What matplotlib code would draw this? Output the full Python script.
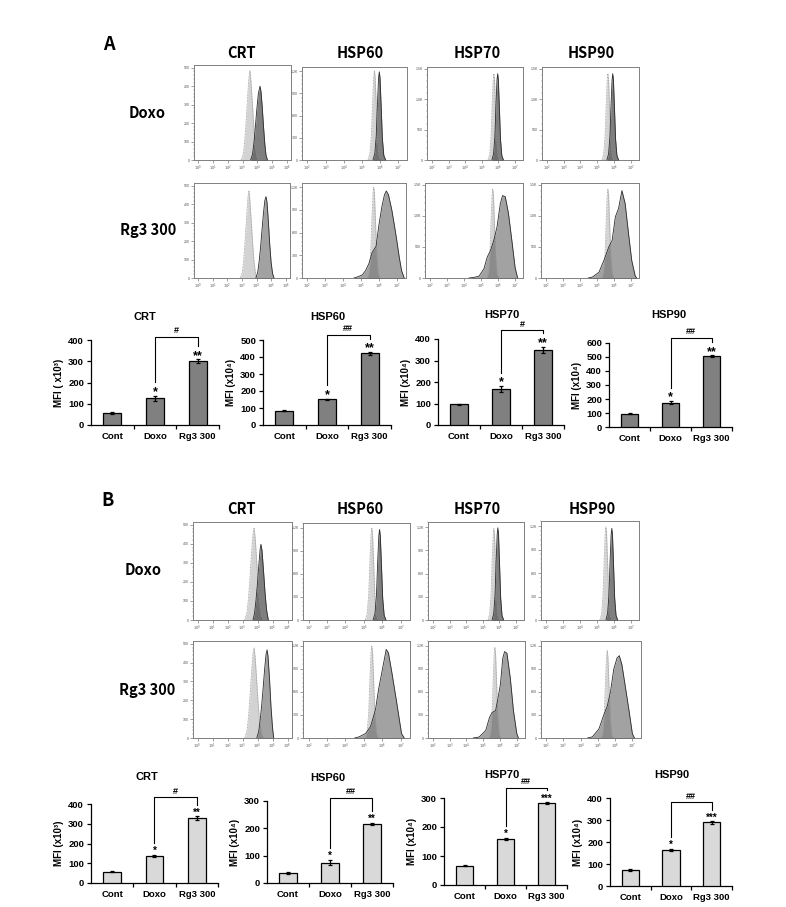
import matplotlib
matplotlib.use('Agg')
import matplotlib.pyplot as plt
import numpy as np

plt.rcParams['font.family'] = ['Liberation Sans', 'DejaVu Sans']

W, H = 786, 907
fig = plt.figure(figsize=(W / 100, H / 100), dpi=100)

# ---------------- bar-chart data ----------------
groups = ['Cont', 'Doxo', 'Rg3 300']
a_crt = [57, 125, 301];   a_crt_err = [4, 13, 8]
a_hsp60 = [84, 151, 421]; a_hsp60_err = [4, 4, 8]
a_hsp70 = [97, 167, 350]; a_hsp70_err = [3, 15, 15]
a_hsp90 = [95, 174, 505]; a_hsp90_err = [2, 12, 6]
b_crt = [58, 138, 328];   b_crt_err = [2, 5, 10]
b_hsp60 = [36, 75, 216];  b_hsp60_err = [4, 10, 5]
b_hsp70 = [67, 159, 283]; b_hsp70_err = [3, 4, 3]
b_hsp90 = [72, 165, 289]; b_hsp90_err = [4, 5, 5]
a_brackets = [415, 530, 440, 638]
b_brackets = [435, 312, 335, 380]
a_stars = [['', '*', '**'], ['', '*', '**'], ['', '*', '**'], ['', '*', '**']]
b_stars = [['', '*', '**'], ['', '*', '**'], ['', '*', '***'], ['', '*', '***']]
a_hash = ['#', '##', '#', '##']
b_hash = ['#', '##', '##', '##']
a_ymax = [400, 500, 400, 600]
b_ymax = [400, 300, 300, 400]
a_ylabels = ['MFI ( x10³)', 'MFI (x10⁴)', 'MFI (x10⁴)', 'MFI (x10⁴)']
b_ylabels = ['MFI (x10³)', 'MFI (x10⁴)', 'MFI (x10⁴)', 'MFI (x10⁴)']
markers = ['CRT', 'HSP60', 'HSP70', 'HSP90']
rows = ['Doxo', 'Rg3 300']

# ---------------- histogram data (log10 fluorescence, count) ----------------
# Panel A, Doxo row
a1_crt_c = ([2.9, 3.05, 3.15, 3.25, 3.35, 3.44, 3.51, 3.57, 3.66, 3.76, 3.86, 3.96, 4.05],
            [0, 30, 100, 215, 345, 450, 484, 430, 320, 190, 85, 25, 0])
a1_crt_t = ([3.55, 3.68, 3.78, 3.88, 3.98, 4.08, 4.19, 4.26, 4.34, 4.43, 4.52, 4.6, 4.7],
            [0, 30, 95, 185, 280, 360, 400, 370, 290, 180, 85, 25, 0])
a1_h60_c = ([5.35, 5.45, 5.53, 5.60, 5.66, 5.70, 5.74, 5.80, 5.87, 5.95, 6.05],
            [0, 84, 324, 780, 1116, 1200, 1116, 744, 288, 60, 0])
a1_h60_t = ([5.62, 5.72, 5.80, 5.87, 5.93, 5.97, 6.01, 6.07, 6.14, 6.22, 6.32],
            [0, 83, 321, 774, 1107, 1190, 1107, 738, 286, 60, 0])
a1_h70_c = ([5.39, 5.49, 5.57, 5.64, 5.70, 5.74, 5.78, 5.84, 5.91, 5.99, 6.09],
            [0, 99, 383, 923, 1321, 1420, 1321, 880, 341, 71, 0])
a1_h70_t = ([5.62, 5.72, 5.80, 5.87, 5.93, 5.97, 6.01, 6.07, 6.14, 6.22, 6.32],
            [0, 99, 383, 923, 1321, 1420, 1321, 880, 341, 71, 0])
a1_h90_c = ([5.29, 5.39, 5.47, 5.54, 5.60, 5.64, 5.68, 5.74, 5.81, 5.89, 5.99],
            [0, 99, 383, 923, 1321, 1420, 1321, 880, 341, 71, 0])
a1_h90_t = ([5.58, 5.68, 5.76, 5.83, 5.89, 5.93, 5.97, 6.03, 6.10, 6.18, 6.28],
            [0, 99, 383, 923, 1321, 1420, 1321, 880, 341, 71, 0])
# Panel A, Rg3 300 row
a2_crt_c = ([2.87, 3.02, 3.12, 3.22, 3.32, 3.41, 3.48, 3.54, 3.63, 3.73, 3.83, 3.93, 4.02],
            [0, 29, 98, 210, 337, 440, 473, 420, 313, 186, 83, 24, 0])
a2_crt_t = ([3.95, 4.08, 4.18, 4.28, 4.38, 4.48, 4.57, 4.65, 4.72, 4.81, 4.9, 5.0, 5.1, 5.2],
            [0, 30, 90, 170, 265, 355, 420, 441, 410, 310, 190, 85, 25, 0])
a2_h60_c = ([5.35, 5.45, 5.53, 5.60, 5.66, 5.70, 5.74, 5.80, 5.87, 5.95, 6.05],
            [0, 84, 324, 780, 1116, 1200, 1116, 744, 288, 60, 0])
a2_h60_t = ([4.6, 4.8, 5.06, 5.25, 5.43, 5.6, 5.7, 5.83, 5.98, 6.16, 6.3, 6.4, 6.52, 6.7, 6.85, 6.98, 7.12, 7.25, 7.4],
            [0, 15, 40, 100, 190, 330, 370, 420, 685, 950, 1100, 1150, 1100, 910, 700, 505, 280, 100, 0])
a2_h70_c = ([5.36, 5.46, 5.54, 5.61, 5.67, 5.71, 5.75, 5.81, 5.88, 5.96, 6.06],
            [0, 100, 387, 933, 1335, 1435, 1335, 890, 344, 72, 0])
a2_h70_t = ([4.3, 4.6, 4.9, 5.19, 5.38, 5.58, 5.77, 5.96, 6.16, 6.29, 6.45, 6.64, 6.84, 7.03, 7.18],
            [0, 10, 30, 150, 335, 445, 605, 820, 1200, 1327, 1310, 1040, 605, 173, 0])
a2_h90_c = ([5.31, 5.41, 5.49, 5.56, 5.62, 5.66, 5.70, 5.76, 5.83, 5.91, 6.01],
            [0, 100, 387, 933, 1335, 1435, 1335, 890, 344, 72, 0])
a2_h90_t = ([4.5, 4.74, 5.13, 5.42, 5.71, 5.91, 6.1, 6.29, 6.49, 6.68, 6.88, 7.07, 7.27, 7.36],
            [0, 15, 92, 282, 498, 606, 985, 1120, 1408, 1200, 715, 282, 38, 0])
# Panel B, Doxo row
b1_crt_c = ([3.15, 3.3, 3.4, 3.5, 3.6, 3.7, 3.77, 3.84, 3.93, 4.03, 4.13, 4.26, 4.4],
            [0, 40, 115, 225, 350, 455, 484, 435, 330, 200, 95, 25, 0])
b1_crt_t = ([3.7, 3.8, 3.9, 4.0, 4.1, 4.18, 4.23, 4.3, 4.4, 4.5, 4.6, 4.72],
            [0, 35, 105, 195, 300, 375, 398, 365, 260, 145, 55, 0])
b1_h60_c = ([5.08, 5.18, 5.26, 5.33, 5.39, 5.43, 5.47, 5.53, 5.60, 5.68, 5.78],
            [0, 84, 324, 780, 1116, 1200, 1116, 744, 288, 60, 0])
b1_h60_t = ([5.50, 5.60, 5.68, 5.75, 5.81, 5.85, 5.89, 5.95, 6.02, 6.10, 6.20],
            [0, 83, 319, 767, 1097, 1180, 1097, 732, 283, 59, 0])
b1_h70_c = ([5.33, 5.43, 5.51, 5.58, 5.64, 5.68, 5.72, 5.78, 5.85, 5.93, 6.03],
            [0, 83, 319, 767, 1097, 1180, 1097, 732, 283, 59, 0])
b1_h70_t = ([5.57, 5.67, 5.75, 5.82, 5.88, 5.92, 5.96, 6.02, 6.09, 6.17, 6.27],
            [0, 83, 321, 774, 1107, 1190, 1107, 738, 286, 60, 0])
b1_h90_c = ([5.19, 5.29, 5.37, 5.44, 5.50, 5.54, 5.58, 5.64, 5.71, 5.79, 5.89],
            [0, 83, 321, 774, 1107, 1190, 1107, 738, 286, 60, 0])
b1_h90_t = ([5.54, 5.64, 5.72, 5.79, 5.85, 5.89, 5.93, 5.99, 6.06, 6.14, 6.24],
            [0, 82, 316, 761, 1088, 1170, 1088, 725, 281, 59, 0])
# Panel B, Rg3 300 row
b2_crt_c = ([3.15, 3.3, 3.4, 3.5, 3.6, 3.7, 3.77, 3.84, 3.93, 4.03, 4.13, 4.26, 4.4],
            [0, 40, 112, 222, 346, 450, 478, 430, 326, 198, 94, 25, 0])
b2_crt_t = ([3.95, 4.08, 4.18, 4.28, 4.38, 4.48, 4.57, 4.64, 4.7, 4.8, 4.9, 5.0, 5.08],
            [0, 35, 95, 175, 270, 370, 445, 468, 435, 315, 165, 55, 0])
b2_h60_c = ([5.08, 5.18, 5.26, 5.33, 5.39, 5.43, 5.47, 5.53, 5.60, 5.68, 5.78],
            [0, 84, 324, 780, 1116, 1200, 1116, 744, 288, 60, 0])
b2_h60_t = ([4.5, 4.74, 5.09, 5.36, 5.63, 5.8, 5.98, 6.21, 6.33, 6.51, 6.78, 7.04, 7.19],
            [0, 15, 58, 148, 372, 640, 864, 1155, 1110, 864, 461, 58, 0])
b2_h70_c = ([5.35, 5.45, 5.53, 5.60, 5.66, 5.70, 5.74, 5.80, 5.87, 5.95, 6.05],
            [0, 83, 319, 767, 1097, 1180, 1097, 732, 283, 59, 0])
b2_h70_t = ([4.4, 4.76, 5.15, 5.38, 5.54, 5.74, 5.89, 6.03, 6.17, 6.28, 6.42, 6.62, 6.81, 7.01, 7.11],
            [0, 13, 98, 270, 334, 356, 527, 699, 1040, 1127, 1105, 784, 356, 56, 0])
b2_h90_c = ([5.19, 5.29, 5.37, 5.44, 5.50, 5.54, 5.58, 5.64, 5.71, 5.79, 5.89],
            [0, 80, 308, 741, 1060, 1140, 1060, 707, 274, 57, 0])
b2_h90_t = ([4.4, 4.68, 5.06, 5.35, 5.54, 5.73, 5.92, 6.11, 6.24, 6.39, 6.58, 6.81, 7.0, 7.12],
            [0, 15, 118, 307, 413, 602, 897, 1044, 1074, 960, 686, 350, 55, 0])

crt_yt = ([0, 100, 200, 300, 400, 500], ['0', '100', '200', '300', '400', '500'])
k12_yt = ([0, 300, 600, 900, 1200], ['0', '300', '600', '900', '1.2K'])
k15_yt = ([0, 500, 1000, 1500], ['0', '500', '1.0K', '1.5K'])

HEAD_FAMILY = ['Noto Sans CJK KR', 'DejaVu Sans']


def ax_px(x0, y0, x1, y1):
    return fig.add_axes([x0 / W, 1 - y1 / H, (x1 - x0) / W, (y1 - y0) / H])


def txt(x, y, s, **kw):
    fig.text(x / W, 1 - y / H, s, ha='center', va='center', **kw)


def hist_panel(box, kind, ymax, yt, ctrl, trt, row):
    ax = ax_px(*box)
    if kind == 'CRT':
        xlim = (-0.3, 6.3); decs = list(range(0, 7))
    else:
        xlim = (1.7, 7.5); decs = list(range(2, 8))
    cx, cy = ctrl
    tx, ty = trt
    ax.fill_between(cx, cy, color='#d3d3d3', lw=0, zorder=2)
    ax.plot(cx, cy, color='#9a9a9a', lw=0.6, ls=(0, (1, 0.8)), zorder=4)
    if row == 0:
        tc, ta = '#303030', 0.62
    else:
        tc, ta = '#3a3a3a', 0.47
    ax.fill_between(tx, ty, color=tc, alpha=ta, lw=0, zorder=3)
    ax.plot(tx, ty, color='#2a2a2a', lw=0.6, zorder=5)
    ax.set_xlim(*xlim)
    ax.set_ylim(0, ymax)
    ax.set_xticks(decs)
    ax.set_xticklabels([r'$10^{%d}$' % d for d in decs], fontsize=2.6, color='#555555')
    minors = [d + np.log10(k) for d in range(decs[0] - 1, decs[-1] + 1) for k in range(2, 10)]
    minors = [m for m in minors if xlim[0] < m < xlim[1]]
    ax.set_xticks(minors, minor=True)
    ax.set_yticks(yt[0])
    ax.set_yticklabels(yt[1], fontsize=2.6, color='#555555')
    step = yt[0][1] - yt[0][0]
    ax.set_yticks([v for v in np.arange(0, ymax, step / 5.0) if v not in yt[0]], minor=True)
    ax.tick_params(which='major', length=2, width=0.4, color='#555555', pad=1)
    ax.tick_params(which='minor', length=1, width=0.3, color='#777777')
    for s in ax.spines.values():
        s.set_color('#808080')
        s.set_linewidth(0.7)
    return ax


def bar_panel(box, vals, errs, ymax, color, ylabel, title, title_xy,
              btop, stars, hsh, star_fs):
    x0, ytop, x1, y0 = box
    ax = ax_px(x0, ytop, x1, y0)
    hpx = y0 - ytop
    upp = ymax / hpx  # data units per pixel
    xs = np.arange(len(groups))
    ax.bar(xs, vals, width=0.42, color=color, edgecolor='black', linewidth=0.9,
           yerr=errs, error_kw=dict(ecolor='black', elinewidth=0.9, capsize=1.6, capthick=0.9),
           zorder=3)
    ax.set_xlim(-0.5, 2.5)
    ax.set_ylim(0, ymax)
    for s in ['top', 'right']:
        ax.spines[s].set_visible(False)
    for s in ['left', 'bottom']:
        ax.spines[s].set_linewidth(0.9)
    ax.set_yticks(np.arange(0, ymax + 1, 100))
    ax.set_yticklabels([str(v) for v in range(0, ymax + 1, 100)], fontsize=6.8, fontweight='bold')
    ax.set_xticks(xs)
    ax.set_xticklabels(groups, fontsize=6.8, fontweight='bold')
    ax.set_xticks([0.5, 1.5, 2.5], minor=True)
    ax.tick_params(axis='x', which='major', length=0, pad=5)
    ax.tick_params(axis='x', which='minor', length=3, width=0.9, direction='out')
    ax.tick_params(axis='y', which='major', length=3, width=0.9, direction='out', pad=2)
    ax.set_ylabel(ylabel, fontsize=7, fontweight='bold',
                  family=['Liberation Sans', 'DejaVu Sans'])
    ax.yaxis.set_label_coords(-27.0 / (x1 - x0), 0.5)
    txt(title_xy[0], title_xy[1], title, fontsize=8, fontweight='bold')
    tops = [v + e for v, e in zip(vals, errs)]
    for i, s in enumerate(stars):
        if s:
            ax.text(i, tops[i] + 0.5 * upp, s, ha='center', va='baseline',
                    fontsize=star_fs, fontweight='bold', clip_on=False, zorder=6)
    fs_px = star_fs * 100 / 72.0
    lb = tops[1] + (0.58 * fs_px + 6) * upp
    rb = tops[2] + (0.58 * fs_px + 6) * upp
    ax.plot([1, 1, 2, 2], [lb, btop, btop, rb], color='black', lw=0.8,
            clip_on=False, zorder=6)
    ax.text(1.5, btop + 3.5 * upp, hsh, ha='center', va='baseline',
            fontsize=6.5, fontweight='bold', clip_on=False)
    return ax


hfont = dict(fontsize=10.5, fontweight='bold', family=HEAD_FAMILY)

# ---------------- Panel A ----------------
txt(109, 45, 'A', fontsize=13, fontweight='bold', family=HEAD_FAMILY)
for m, xc in zip(markers, [242, 360, 477, 591]):
    txt(xc, 53, m, **hfont)
txt(147, 113, rows[0], **hfont)
txt(148, 230, rows[1], **hfont)

hist_panel((194, 65, 291, 160), 'CRT', 515, crt_yt, a1_crt_c, a1_crt_t, 0)
hist_panel((302, 67, 407, 160), 'HSP', 1255, k12_yt, a1_h60_c, a1_h60_t, 0)
hist_panel((427, 67, 523, 160), 'HSP', 1530, k15_yt, a1_h70_c, a1_h70_t, 0)
hist_panel((542, 67, 639, 160), 'HSP', 1530, k15_yt, a1_h90_c, a1_h90_t, 0)
hist_panel((194, 183, 290, 278), 'CRT', 515, crt_yt, a2_crt_c, a2_crt_t, 1)
hist_panel((302, 183, 406, 278), 'HSP', 1255, k12_yt, a2_h60_c, a2_h60_t, 1)
hist_panel((425, 183, 523, 278), 'HSP', 1530, k15_yt, a2_h70_c, a2_h70_t, 1)
hist_panel((541, 183, 639, 278), 'HSP', 1530, k15_yt, a2_h90_c, a2_h90_t, 1)

a_vals = [a_crt, a_hsp60, a_hsp70, a_hsp90]
a_errs = [a_crt_err, a_hsp60_err, a_hsp70_err, a_hsp90_err]
a_boxes = [(91, 340, 219, 425), (263, 340, 391, 425), (438, 339, 564, 425), (609, 343, 732, 427)]
a_titles = [(145, 317), (328, 317), (502, 315), (669, 315)]
for i in range(4):
    bar_panel(a_boxes[i], a_vals[i], a_errs[i], a_ymax[i], '#808080', a_ylabels[i],
              markers[i], a_titles[i], a_brackets[i], a_stars[i], a_hash[i], 9)

# ---------------- Panel B ----------------
txt(108, 501, 'B', fontsize=13, fontweight='bold', family=HEAD_FAMILY)
for m, xc in zip(markers, [242, 360, 477, 592]):
    txt(xc, 509, m, **hfont)
txt(143, 570, rows[0], **hfont)
txt(147, 690, rows[1], **hfont)

hist_panel((193, 522, 292, 620), 'CRT', 515, crt_yt, b1_crt_c, b1_crt_t, 0)
hist_panel((303, 523, 410, 620), 'HSP', 1265, k12_yt, b1_h60_c, b1_h60_t, 0)
hist_panel((428, 522, 524, 620), 'HSP', 1265, k12_yt, b1_h70_c, b1_h70_t, 0)
hist_panel((541, 521, 639, 620), 'HSP', 1265, k12_yt, b1_h90_c, b1_h90_t, 0)
hist_panel((193, 641, 292, 738), 'CRT', 515, crt_yt, b2_crt_c, b2_crt_t, 1)
hist_panel((303, 641, 410, 738), 'HSP', 1265, k12_yt, b2_h60_c, b2_h60_t, 1)
hist_panel((428, 641, 525, 738), 'HSP', 1265, k12_yt, b2_h70_c, b2_h70_t, 1)
hist_panel((541, 641, 641, 738), 'HSP', 1265, k12_yt, b2_h90_c, b2_h90_t, 1)

b_vals = [b_crt, b_hsp60, b_hsp70, b_hsp90]
b_errs = [b_crt_err, b_hsp60_err, b_hsp70_err, b_hsp90_err]
b_boxes = [(91, 804, 218, 883), (267, 801, 393, 883), (444, 798, 567, 885), (610, 798, 732, 886)]
b_titles = [(147, 777), (328, 778), (502, 775), (672, 775)]
for i in range(4):
    bar_panel(b_boxes[i], b_vals[i], b_errs[i], b_ymax[i], '#d9d9d9', b_ylabels[i],
              markers[i], b_titles[i], b_brackets[i], b_stars[i], b_hash[i], 7)

fig.savefig('out.png', dpi=100)
